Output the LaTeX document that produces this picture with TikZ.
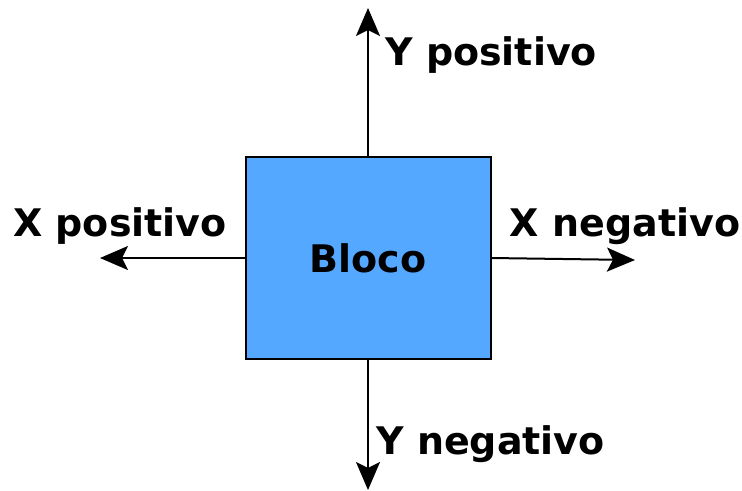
\documentclass[tikz,border=0pt]{standalone}
\usepackage{fontspec}
\setmainfont{DejaVu Sans}
\usetikzlibrary{arrows.meta, positioning}

\tikzset{
    eixo/.style={line width=1.5pt, -{Stealth[length=21pt, width=18pt, inset=4.5pt]}},
    rotulo/.style={font=\bfseries\fontsize{28.5}{34}\selectfont, inner sep=0pt},
}

\begin{document}
\begin{tikzpicture}[x=0.75pt, y=-0.75pt]
    \useasboundingbox (0,0) rectangle (742,490);

    \node[draw, line width=1.5pt, fill={rgb,255:red,85;green,168;blue,255},
          minimum width=183.75pt, minimum height=151.5pt, inner sep=0pt,
          rotulo] (bloco) at (368,258) {Bloco};

    \coordinate (cima) at (368,8);
    \coordinate (baixo) at (368,490);
    \coordinate (esq) at (100,258);
    \coordinate (dir) at (635,260);

    \draw[eixo] (bloco.north) -- (cima);
    \draw[eixo] (bloco.south) -- (baixo);
    \draw[eixo] (bloco.west) -- (esq);
    \draw[eixo] (bloco.east) -- (dir);

    \node[rotulo, anchor=west] (ypos) at (385,55) {Y positivo};
    \node[rotulo] (xpos) at (120,226) {X positivo};
    \node[rotulo] (xneg) at (625,226) {X negativo};
    \node[rotulo, anchor=west] (yneg) at (376,444) {Y negativo};
\end{tikzpicture}
\end{document}
